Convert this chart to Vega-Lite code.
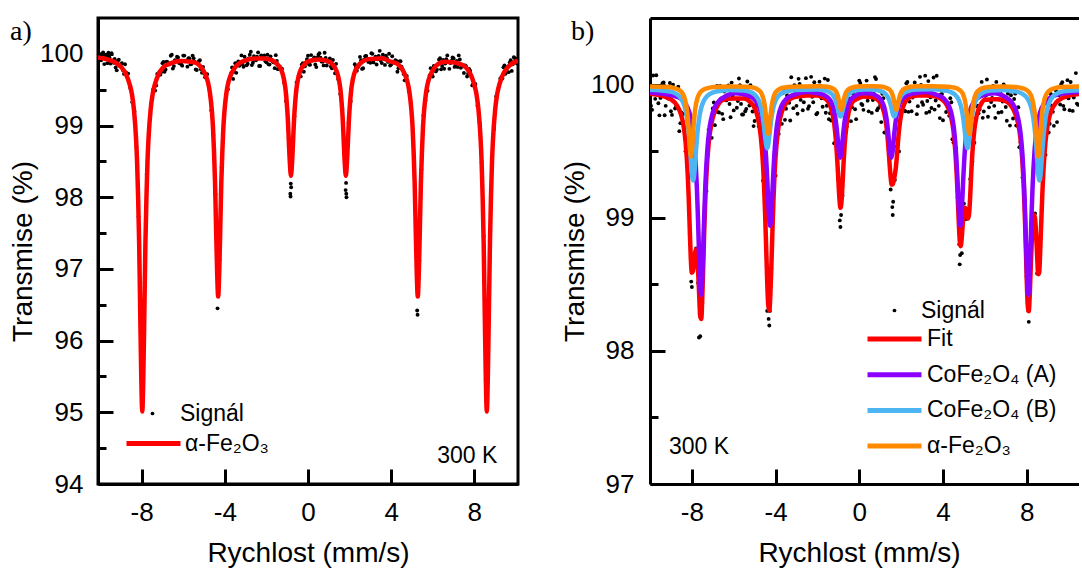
{
"$schema": "https://vega.github.io/schema/vega-lite/v6.json",
"background": "white",
"padding": {"left": 8, "top": 16, "right": 0, "bottom": 0},
"spacing": 41,
"config": {
 "font": "Liberation Sans",
 "view": {"stroke": "black", "strokeWidth": 3},
 "axis": {"domainColor": "black", "domainWidth": 3, "tickColor": "black", "tickWidth": 3, "labelFont": "Liberation Sans", "labelFontSize": 26, "labelColor": "black", "titleFont": "Liberation Sans", "titleFontSize": 28, "titleFontWeight": "normal", "titleColor": "black", "grid": false, "labelFlush": false, "labelOverlap": false},
 "legend": {"labelFont": "Liberation Sans", "labelFontSize": 23, "labelColor": "black", "padding": 0, "offset": 0},
 "text": {"font": "Liberation Sans", "fontSize": 23, "color": "black"}
},
"resolve": {"scale": {"x": "independent", "y": "independent", "color": "independent", "shape": "independent"}, "legend": {"color": "independent", "shape": "independent"}},
"datasets": {
 "sigA": [
{"v":-10.05,"t":100.0},{"v":-9.95,"t":99.91},{"v":-9.85,"t":100.02},{"v":-9.75,"t":99.945},{"v":-9.65,"t":99.87},{"v":-9.55,"t":99.95},{"v":-9.45,"t":100.01},{"v":-9.35,"t":99.875},{"v":-9.25,"t":99.81},{"v":-9.15,"t":99.9},
{"v":-9.05,"t":99.835},{"v":-8.95,"t":99.87},{"v":-8.85,"t":99.72},{"v":-8.75,"t":99.74},{"v":-8.65,"t":99.725},{"v":-8.55,"t":99.525},{"v":-8.45,"t":99.325},{"v":-8.35,"t":99.195},{"v":-8.25,"t":98.7},{"v":-8.15,"t":97.73},
{"v":-8.05,"t":96.12},{"v":-7.95,"t":95.15},{"v":-7.85,"t":96.81},{"v":-7.75,"t":98.32},{"v":-7.65,"t":98.86},{"v":-7.55,"t":99.25},{"v":-7.45,"t":99.5},{"v":-7.35,"t":99.487},{"v":-7.25,"t":99.72},{"v":-7.15,"t":99.749},
{"v":-7.05,"t":99.748},{"v":-6.95,"t":99.887},{"v":-6.85,"t":99.781},{"v":-6.75,"t":99.883},{"v":-6.65,"t":99.859},{"v":-6.55,"t":99.989},{"v":-6.45,"t":99.829},{"v":-6.35,"t":99.906},{"v":-6.25,"t":99.951},{"v":-6.15,"t":99.874},
{"v":-6.05,"t":99.835},{"v":-5.95,"t":99.976},{"v":-5.85,"t":99.903},{"v":-5.75,"t":99.939},{"v":-5.65,"t":99.853},{"v":-5.55,"t":99.976},{"v":-5.45,"t":99.892},{"v":-5.35,"t":99.774},{"v":-5.25,"t":99.896},{"v":-5.15,"t":99.784},
{"v":-5.05,"t":99.816},{"v":-4.95,"t":99.674},{"v":-4.85,"t":99.717},{"v":-4.75,"t":99.513},{"v":-4.65,"t":99.212},{"v":-4.55,"t":98.868},{"v":-4.45,"t":98.043},{"v":-4.35,"t":96.45},{"v":-4.25,"t":97.125},{"v":-4.15,"t":98.415},
{"v":-4.05,"t":99.05},{"v":-3.95,"t":99.43},{"v":-3.85,"t":99.505},{"v":-3.75,"t":99.68},{"v":-3.65,"t":99.81},{"v":-3.55,"t":99.75},{"v":-3.45,"t":99.735},{"v":-3.35,"t":99.895},{"v":-3.25,"t":99.87},{"v":-3.15,"t":99.855},
{"v":-3.05,"t":99.96},{"v":-2.95,"t":99.84},{"v":-2.85,"t":99.935},{"v":-2.75,"t":100.03},{"v":-2.65,"t":99.875},{"v":-2.55,"t":99.918},{"v":-2.45,"t":99.959},{"v":-2.35,"t":99.83},{"v":-2.25,"t":99.979},{"v":-2.15,"t":99.938},
{"v":-2.05,"t":99.895},{"v":-1.95,"t":99.988},{"v":-1.85,"t":99.85},{"v":-1.75,"t":99.917},{"v":-1.65,"t":99.881},{"v":-1.55,"t":99.982},{"v":-1.45,"t":99.786},{"v":-1.35,"t":99.819},{"v":-1.25,"t":99.792},{"v":-1.15,"t":99.598},
{"v":-1.05,"t":99.34},{"v":-0.95,"t":99.035},{"v":-0.85,"t":98.05},{"v":-0.84,"t":98.01},{"v":-0.83,"t":98.19},{"v":-0.81,"t":98.14},{"v":-0.75,"t":98.63},{"v":-0.65,"t":99.13},{"v":-0.55,"t":99.6},{"v":-0.45,"t":99.695},{"v":-0.35,"t":99.685},{"v":-0.25,"t":99.87},{"v":-0.15,"t":99.825},
{"v":-0.05,"t":99.924},{"v":0.05,"t":99.851},{"v":0.15,"t":99.983},{"v":0.25,"t":99.919},{"v":0.35,"t":99.853},{"v":0.45,"t":99.947},{"v":0.55,"t":100.01},{"v":0.65,"t":99.893},{"v":0.75,"t":99.839},{"v":0.85,"t":99.943},
{"v":0.95,"t":99.891},{"v":1.05,"t":99.935},{"v":1.15,"t":99.798},{"v":1.25,"t":99.84},{"v":1.35,"t":99.861},{"v":1.45,"t":99.648},{"v":1.55,"t":99.44},{"v":1.65,"t":99.23},{"v":1.75,"t":98.61},{"v":1.81,"t":98.1},{"v":1.83,"t":98.2},{"v":1.84,"t":98.05},{"v":1.85,"t":98.0},
{"v":1.95,"t":99.04},{"v":2.05,"t":99.34},{"v":2.15,"t":99.65},{"v":2.25,"t":99.855},{"v":2.35,"t":99.765},{"v":2.45,"t":99.843},{"v":2.55,"t":99.91},{"v":2.65,"t":99.799},{"v":2.75,"t":99.966},{"v":2.85,"t":99.934},
{"v":2.95,"t":99.902},{"v":3.05,"t":100.009},{"v":3.15,"t":99.881},{"v":3.25,"t":99.962},{"v":3.35,"t":99.923},{"v":3.45,"t":100.042},{"v":3.55,"t":99.871},{"v":3.65,"t":99.938},{"v":3.75,"t":99.974},{"v":3.85,"t":99.888},
{"v":3.95,"t":99.836},{"v":4.05,"t":99.966},{"v":4.15,"t":99.88},{"v":4.25,"t":99.9},{"v":4.35,"t":99.8},{"v":4.45,"t":99.896},{"v":4.55,"t":99.785},{"v":4.65,"t":99.63},{"v":4.75,"t":99.691},{"v":4.85,"t":99.475},
{"v":4.95,"t":99.312},{"v":5.05,"t":98.786},{"v":5.15,"t":98.01},{"v":5.25,"t":96.42},{"v":5.27,"t":96.36},{"v":5.35,"t":97.12},{"v":5.45,"t":98.39},{"v":5.55,"t":99.14},{"v":5.65,"t":99.35},{"v":5.75,"t":99.485},{"v":5.85,"t":99.7},
{"v":5.95,"t":99.715},{"v":6.05,"t":99.83},{"v":6.15,"t":99.755},{"v":6.25,"t":99.852},{"v":6.35,"t":99.938},{"v":6.45,"t":99.83},{"v":6.55,"t":99.792},{"v":6.65,"t":99.925},{"v":6.75,"t":99.89},{"v":6.85,"t":99.873},
{"v":6.95,"t":99.95},{"v":7.05,"t":99.818},{"v":7.15,"t":99.902},{"v":7.25,"t":99.978},{"v":7.35,"t":99.805},{"v":7.45,"t":99.825},{"v":7.55,"t":99.84},{"v":7.65,"t":99.684},{"v":7.75,"t":99.79},{"v":7.85,"t":99.7},
{"v":7.95,"t":99.58},{"v":8.05,"t":99.58},{"v":8.15,"t":99.277},{"v":8.25,"t":99.044},{"v":8.35,"t":98.48},{"v":8.45,"t":97.46},{"v":8.55,"t":95.44},{"v":8.65,"t":95.51},{"v":8.75,"t":97.4},{"v":8.85,"t":98.46},
{"v":8.95,"t":98.95},{"v":9.05,"t":99.405},{"v":9.15,"t":99.51},{"v":9.25,"t":99.655},{"v":9.35,"t":99.655},{"v":9.45,"t":99.84},{"v":9.55,"t":99.815},{"v":9.65,"t":99.745},{"v":9.75,"t":99.91},{"v":9.85,"t":99.855},
{"v":9.95,"t":99.94},{"v":10.05,"t":99.867},
{"v":-10.0,"t":99.92},{"v":-9.9,"t":100.004},{"v":-9.8,"t":99.857},{"v":-9.7,"t":99.952},{"v":-9.6,"t":100.015},{"v":-9.5,"t":99.865},{"v":-9.4,"t":99.903},{"v":-9.3,"t":99.928},{"v":-9.2,"t":99.77},{"v":-9.1,"t":99.918},{"v":-9.0,"t":99.852},{"v":-8.9,"t":99.77},{"v":-8.8,"t":99.855},
{"v":-7.3,"t":99.56},{"v":-7.2,"t":99.705},{"v":-7.1,"t":99.71},{"v":-7.0,"t":99.87},{"v":-6.9,"t":99.75},{"v":-6.8,"t":99.892},{"v":-6.7,"t":99.851},{"v":-6.6,"t":99.974},{"v":-6.5,"t":99.794},{"v":-6.4,"t":99.913},{"v":-6.3,"t":99.959},{"v":-6.2,"t":99.873},{"v":-6.1,"t":99.855},{"v":-6.0,"t":99.976},{"v":-5.9,"t":99.905},{"v":-5.8,"t":99.821},{"v":-5.7,"t":99.936},{"v":-5.6,"t":99.86},{"v":-5.5,"t":99.939},{"v":-5.4,"t":99.783},{"v":-5.3,"t":99.865},{"v":-5.2,"t":99.91},{"v":-5.1,"t":99.735},{"v":-5.0,"t":99.74},
{"v":-3.7,"t":99.73},{"v":-3.6,"t":99.65},{"v":-3.5,"t":99.87},{"v":-3.4,"t":99.86},{"v":-3.3,"t":99.833},{"v":-3.2,"t":99.978},{"v":-3.1,"t":99.82},{"v":-3.0,"t":99.905},{"v":-2.9,"t":99.863},{"v":-2.8,"t":99.988},{"v":-2.7,"t":99.843},{"v":-2.6,"t":99.967},{"v":-2.5,"t":99.909},{"v":-2.4,"t":100.02},{"v":-2.3,"t":99.83},{"v":-2.2,"t":99.939},{"v":-2.1,"t":99.977},{"v":-2.0,"t":99.882},{"v":-1.9,"t":99.854},{"v":-1.8,"t":99.965},{"v":-1.7,"t":99.89},{"v":-1.6,"t":99.8},{"v":-1.5,"t":99.9},{"v":-1.4,"t":99.8},
{"v":-0.3,"t":99.85},{"v":-0.2,"t":99.75},{"v":-0.1,"t":99.88},{"v":0.0,"t":99.973},{"v":0.1,"t":99.847},{"v":0.2,"t":99.906},{"v":0.3,"t":99.951},{"v":0.4,"t":99.815},{"v":0.5,"t":99.987},{"v":0.6,"t":99.945},{"v":0.7,"t":99.891},{"v":0.8,"t":100.016},{"v":0.9,"t":99.837},{"v":1.0,"t":99.893},{"v":1.1,"t":99.822},{"v":1.2,"t":99.914},{"v":1.3,"t":99.73},
{"v":2.3,"t":99.82},{"v":2.4,"t":99.813},{"v":2.5,"t":99.957},{"v":2.6,"t":99.79},{"v":2.7,"t":99.918},{"v":2.8,"t":99.97},{"v":2.9,"t":99.888},{"v":3.0,"t":99.875},{"v":3.1,"t":100.0},{"v":3.2,"t":99.932},{"v":3.3,"t":99.852},{"v":3.4,"t":99.972},{"v":3.5,"t":99.902},{"v":3.6,"t":99.99},{"v":3.7,"t":99.846},{"v":3.8,"t":99.941},{"v":3.9,"t":100.002},{"v":4.0,"t":99.85},{"v":4.1,"t":99.888},{"v":4.2,"t":99.91},{"v":4.3,"t":99.75},{"v":4.4,"t":99.893},{"v":4.5,"t":99.82},{"v":4.6,"t":99.72},
{"v":5.9,"t":99.8},{"v":6.0,"t":99.683},{"v":6.1,"t":99.798},{"v":6.2,"t":99.778},{"v":6.3,"t":99.92},{"v":6.4,"t":99.784},{"v":6.5,"t":99.916},{"v":6.6,"t":99.864},{"v":6.7,"t":99.978},{"v":6.8,"t":99.791},{"v":6.9,"t":99.902},{"v":7.0,"t":99.939},{"v":7.1,"t":99.845},{"v":7.2,"t":99.815},{"v":7.3,"t":99.921},{"v":7.4,"t":99.835},{"v":7.5,"t":99.732},{"v":7.6,"t":99.827},{"v":7.7,"t":99.722},{"v":7.8,"t":99.765},{"v":7.9,"t":99.56},
{"v":9.3,"t":99.675},{"v":9.4,"t":99.812},{"v":9.5,"t":99.722},{"v":9.6,"t":99.81},{"v":9.7,"t":99.878},{"v":9.8,"t":99.762},{"v":9.9,"t":99.952},{"v":10.0,"t":99.93}
 ],
 "fitA": [
{"v":-10.1,"t":99.95},{"v":-9.9,"t":99.94},{"v":-9.67,"t":99.925},{"v":-9.27,"t":99.88},{"v":-8.97,"t":99.811},{"v":-8.77,"t":99.726},{"v":-8.57,"t":99.567},{"v":-8.47,"t":99.442},{"v":-8.37,"t":99.218},{"v":-8.27,"t":98.82},{"v":-8.22,"t":98.496},{"v":-8.17,"t":97.998},{"v":-8.12,"t":97.351},{"v":-8.07,"t":96.404},{"v":-8.02,"t":95.508},{"v":-7.97,"t":95.01},{"v":-7.92,"t":95.508},{"v":-7.87,"t":96.404},{"v":-7.82,"t":97.351},{"v":-7.77,"t":97.998},{"v":-7.72,"t":98.496},{"v":-7.67,"t":98.82},{"v":-7.57,"t":99.218},{"v":-7.47,"t":99.442},{"v":-7.37,"t":99.567},{"v":-7.17,"t":99.726},{"v":-6.97,"t":99.811},{"v":-6.67,"t":99.86},{"v":-6.15,"t":99.9},
{"v":-5.62,"t":99.89},{"v":-5.32,"t":99.864},{"v":-5.12,"t":99.806},{"v":-4.92,"t":99.699},{"v":-4.82,"t":99.614},{"v":-4.72,"t":99.463},{"v":-4.62,"t":99.193},{"v":-4.57,"t":98.974},{"v":-4.52,"t":98.637},{"v":-4.47,"t":98.199},{"v":-4.42,"t":97.559},{"v":-4.37,"t":96.952},{"v":-4.32,"t":96.615},{"v":-4.27,"t":96.952},{"v":-4.22,"t":97.559},{"v":-4.17,"t":98.199},{"v":-4.12,"t":98.637},{"v":-4.07,"t":98.974},{"v":-4.02,"t":99.193},{"v":-3.92,"t":99.463},{"v":-3.82,"t":99.614},{"v":-3.72,"t":99.699},{"v":-3.52,"t":99.806},{"v":-3.32,"t":99.864},{"v":-3.02,"t":99.91},
{"v":-2.57,"t":99.935},{"v":-2.12,"t":99.935},{"v":-1.82,"t":99.92},{"v":-1.62,"t":99.891},{"v":-1.42,"t":99.837},{"v":-1.32,"t":99.795},{"v":-1.22,"t":99.72},{"v":-1.12,"t":99.585},{"v":-1.07,"t":99.476},{"v":-1.02,"t":99.308},{"v":-0.97,"t":99.09},{"v":-0.92,"t":98.77},{"v":-0.87,"t":98.468},{"v":-0.82,"t":98.3},{"v":-0.77,"t":98.468},{"v":-0.72,"t":98.77},{"v":-0.67,"t":99.09},{"v":-0.62,"t":99.308},{"v":-0.57,"t":99.476},{"v":-0.52,"t":99.585},{"v":-0.42,"t":99.72},{"v":-0.32,"t":99.795},{"v":-0.22,"t":99.837},{"v":-0.02,"t":99.891},
{"v":0.5,"t":99.922},{"v":1.02,"t":99.891},{"v":1.22,"t":99.837},{"v":1.32,"t":99.795},{"v":1.42,"t":99.72},{"v":1.52,"t":99.585},{"v":1.57,"t":99.476},{"v":1.62,"t":99.308},{"v":1.67,"t":99.09},{"v":1.72,"t":98.77},{"v":1.77,"t":98.468},{"v":1.82,"t":98.3},{"v":1.87,"t":98.468},{"v":1.92,"t":98.77},{"v":1.97,"t":99.09},{"v":2.02,"t":99.308},{"v":2.07,"t":99.476},{"v":2.12,"t":99.585},{"v":2.22,"t":99.72},{"v":2.32,"t":99.795},{"v":2.42,"t":99.837},{"v":2.62,"t":99.891},{"v":2.82,"t":99.92},{"v":3.12,"t":99.93},{"v":3.55,"t":99.94},
{"v":3.98,"t":99.89},{"v":4.28,"t":99.864},{"v":4.48,"t":99.806},{"v":4.68,"t":99.699},{"v":4.78,"t":99.614},{"v":4.88,"t":99.463},{"v":4.98,"t":99.193},{"v":5.03,"t":98.974},{"v":5.08,"t":98.637},{"v":5.13,"t":98.199},{"v":5.18,"t":97.559},{"v":5.23,"t":96.952},{"v":5.28,"t":96.615},{"v":5.33,"t":96.952},{"v":5.38,"t":97.559},{"v":5.43,"t":98.199},{"v":5.48,"t":98.637},{"v":5.53,"t":98.974},{"v":5.58,"t":99.193},{"v":5.68,"t":99.463},{"v":5.78,"t":99.614},{"v":5.88,"t":99.699},{"v":6.08,"t":99.806},{"v":6.28,"t":99.864},{"v":6.58,"t":99.89},
{"v":6.94,"t":99.883},{"v":7.3,"t":99.86},{"v":7.6,"t":99.811},{"v":7.8,"t":99.726},{"v":8.0,"t":99.567},{"v":8.1,"t":99.442},{"v":8.2,"t":99.218},{"v":8.3,"t":98.82},{"v":8.35,"t":98.496},{"v":8.4,"t":97.998},{"v":8.45,"t":97.351},{"v":8.5,"t":96.404},{"v":8.55,"t":95.508},{"v":8.6,"t":95.01},{"v":8.65,"t":95.508},{"v":8.7,"t":96.404},{"v":8.75,"t":97.351},{"v":8.8,"t":97.998},{"v":8.85,"t":98.496},{"v":8.9,"t":98.82},{"v":9.0,"t":99.218},{"v":9.1,"t":99.442},{"v":9.2,"t":99.567},{"v":9.4,"t":99.726},{"v":9.6,"t":99.811},{"v":9.9,"t":99.88},{"v":10.1,"t":99.905}
 ],
 "sigB": [
{"v":-10.0,"t":100.01},{"v":-9.9,"t":99.81},{"v":-9.8,"t":99.955},{"v":-9.7,"t":100.07},{"v":-9.6,"t":99.86},{"v":-9.5,"t":99.9},{"v":-9.4,"t":100.01},{"v":-9.3,"t":99.77},{"v":-9.2,"t":99.95},{"v":-9.1,"t":99.895},
{"v":-9.0,"t":99.8},{"v":-8.9,"t":100.0},{"v":-8.8,"t":99.82},{"v":-8.7,"t":99.91},{"v":-8.6,"t":99.65},{"v":-8.5,"t":99.79},{"v":-8.4,"t":99.78},{"v":-8.3,"t":99.5},{"v":-8.2,"t":99.46},{"v":-8.1,"t":98.88},
{"v":-8.03,"t":98.52},{"v":-8.0,"t":98.48},{"v":-7.9,"t":98.72},{"v":-7.8,"t":98.77},{"v":-7.7,"t":98.51},{"v":-7.66,"t":98.1},{"v":-7.62,"t":98.28},{"v":-7.6,"t":98.11},{"v":-7.5,"t":98.36},{"v":-7.4,"t":98.99},{"v":-7.3,"t":99.2},{"v":-7.2,"t":99.66},{"v":-7.1,"t":99.67},
{"v":-7.0,"t":99.82},{"v":-6.9,"t":99.695},{"v":-6.8,"t":99.99},{"v":-6.7,"t":99.79},{"v":-6.6,"t":99.895},{"v":-6.5,"t":99.74},{"v":-6.4,"t":99.98},{"v":-6.3,"t":99.892},{"v":-6.2,"t":99.854},{"v":-6.1,"t":100.015},
{"v":-6.0,"t":99.806},{"v":-5.9,"t":99.946},{"v":-5.8,"t":99.876},{"v":-5.7,"t":99.996},{"v":-5.6,"t":99.775},{"v":-5.5,"t":99.955},{"v":-5.4,"t":99.817},{"v":-5.3,"t":99.898},{"v":-5.2,"t":99.996},{"v":-5.1,"t":99.798},
{"v":-5.0,"t":99.726},{"v":-4.9,"t":99.863},{"v":-4.8,"t":99.687},{"v":-4.7,"t":99.682},{"v":-4.6,"t":99.279},{"v":-4.5,"t":99.063},{"v":-4.4,"t":98.3},{"v":-4.37,"t":98.36},{"v":-4.33,"t":98.24},{"v":-4.3,"t":98.19},{"v":-4.27,"t":98.3},{"v":-4.2,"t":98.618},{"v":-4.1,"t":99.234},
{"v":-4.0,"t":99.316},{"v":-3.9,"t":99.684},{"v":-3.8,"t":99.736},{"v":-3.7,"t":99.705},{"v":-3.6,"t":99.953},{"v":-3.5,"t":99.818},{"v":-3.4,"t":99.948},{"v":-3.3,"t":99.73},{"v":-3.2,"t":99.92},{"v":-3.1,"t":99.996},
{"v":-3.0,"t":99.84},{"v":-2.9,"t":100.043},{"v":-2.8,"t":99.885},{"v":-2.7,"t":99.807},{"v":-2.6,"t":99.978},{"v":-2.5,"t":99.928},{"v":-2.4,"t":99.838},{"v":-2.3,"t":100.058},{"v":-2.2,"t":99.867},{"v":-2.1,"t":99.957},
{"v":-2.0,"t":99.787},{"v":-1.9,"t":100.022},{"v":-1.8,"t":99.897},{"v":-1.7,"t":99.97},{"v":-1.6,"t":99.788},{"v":-1.5,"t":100.034},{"v":-1.4,"t":99.785},{"v":-1.3,"t":99.825},{"v":-1.2,"t":99.559},{"v":-1.1,"t":99.639},
{"v":-1.0,"t":99.284},{"v":-0.93,"t":98.98},{"v":-0.9,"t":98.93},{"v":-0.87,"t":99.02},{"v":-0.8,"t":99.165},{"v":-0.7,"t":99.592},{"v":-0.6,"t":99.686},{"v":-0.5,"t":99.895},{"v":-0.4,"t":99.725},{"v":-0.3,"t":99.933},{"v":-0.2,"t":99.815},{"v":-0.1,"t":99.913},
{"v":0.0,"t":100.03},{"v":0.1,"t":99.855},{"v":0.2,"t":99.81},{"v":0.3,"t":99.99},{"v":0.4,"t":99.879},{"v":0.5,"t":99.988},{"v":0.6,"t":99.787},{"v":0.7,"t":99.93},{"v":0.8,"t":100.042},{"v":0.9,"t":99.822},
{"v":1.0,"t":99.843},{"v":1.1,"t":99.931},{"v":1.2,"t":99.64},{"v":1.3,"t":99.736},{"v":1.4,"t":99.513},{"v":1.5,"t":99.212},{"v":1.58,"t":99.08},{"v":1.6,"t":99.02},{"v":1.62,"t":99.12},{"v":1.7,"t":99.283},{"v":1.8,"t":99.535},{"v":1.9,"t":99.498},
{"v":2.0,"t":99.795},{"v":2.1,"t":99.925},{"v":2.2,"t":99.8},{"v":2.3,"t":100.02},{"v":2.4,"t":99.872},{"v":2.5,"t":99.8},{"v":2.6,"t":99.973},{"v":2.7,"t":99.926},{"v":2.8,"t":99.838},{"v":2.9,"t":100.058},
{"v":3.0,"t":99.868},{"v":3.1,"t":99.958},{"v":3.2,"t":99.787},{"v":3.3,"t":100.026},{"v":3.4,"t":99.904},{"v":3.5,"t":99.983},{"v":3.6,"t":99.812},{"v":3.7,"t":100.066},{"v":3.8,"t":99.84},{"v":3.9,"t":99.925},
{"v":4.0,"t":99.732},{"v":4.1,"t":99.956},{"v":4.2,"t":99.841},{"v":4.3,"t":99.765},{"v":4.4,"t":99.867},{"v":4.5,"t":99.564},{"v":4.6,"t":99.525},{"v":4.7,"t":99.154},{"v":4.78,"t":98.8},{"v":4.8,"t":98.65},{"v":4.82,"t":98.72},{"v":4.9,"t":98.734},
{"v":5.0,"t":99.106},{"v":5.1,"t":98.989},{"v":5.2,"t":99.014},{"v":5.3,"t":99.29},{"v":5.4,"t":99.425},{"v":5.5,"t":99.563},{"v":5.6,"t":99.839},{"v":5.7,"t":99.785},{"v":5.8,"t":99.929},{"v":5.9,"t":99.75},
{"v":6.0,"t":99.916},{"v":6.1,"t":100.038},{"v":6.2,"t":99.829},{"v":6.3,"t":99.869},{"v":6.4,"t":99.99},{"v":6.5,"t":99.75},{"v":6.6,"t":99.94},{"v":6.7,"t":99.887},{"v":6.8,"t":99.794},{"v":6.9,"t":100.001},
{"v":7.0,"t":99.832},{"v":7.1,"t":99.932},{"v":7.2,"t":99.692},{"v":7.3,"t":99.85},{"v":7.4,"t":99.892},{"v":7.5,"t":99.692},{"v":7.6,"t":99.83},{"v":7.7,"t":99.568},{"v":7.8,"t":99.302},{"v":7.9,"t":99.13},
{"v":8.0,"t":98.561},{"v":8.08,"t":98.3},{"v":8.1,"t":98.218},{"v":8.2,"t":98.793},{"v":8.3,"t":98.921},{"v":8.4,"t":99.033},{"v":8.5,"t":98.581},{"v":8.6,"t":98.7},{"v":8.7,"t":98.969},{"v":8.8,"t":99.421},{"v":8.9,"t":99.472},
{"v":9.0,"t":99.853},{"v":9.1,"t":99.706},{"v":9.2,"t":99.842},{"v":9.3,"t":99.69},{"v":9.4,"t":99.954},{"v":9.5,"t":99.878},{"v":9.6,"t":99.85},{"v":9.7,"t":100.018},{"v":9.8,"t":99.815},{"v":9.9,"t":99.961},
{"v":10.0,"t":99.896},{"v":10.1,"t":100.019},{"v":10.2,"t":99.802},{"v":10.3,"t":99.985},{"v":10.4,"t":99.857},{"v":10.5,"t":99.949},
{"v":-9.95,"t":99.84},{"v":-9.85,"t":100.068},{"v":-9.75,"t":99.893},{"v":-9.65,"t":99.99},{"v":-9.55,"t":99.769},{"v":-9.45,"t":99.955},{"v":-9.35,"t":100.016},{"v":-9.25,"t":99.84},{"v":-9.15,"t":99.896},{"v":-9.05,"t":100.012},{"v":-8.95,"t":99.772},{"v":-8.85,"t":99.92},{"v":-8.75,"t":99.833},{"v":-8.65,"t":99.985},{"v":-8.55,"t":99.71},
{"v":-7.15,"t":99.69},{"v":-7.05,"t":99.6},{"v":-6.95,"t":99.865},{"v":-6.85,"t":99.825},{"v":-6.75,"t":99.793},{"v":-6.65,"t":99.99},{"v":-6.55,"t":99.78},{"v":-6.45,"t":99.948},{"v":-6.35,"t":99.881},{"v":-6.25,"t":99.993},{"v":-6.15,"t":99.755},{"v":-6.05,"t":99.916},{"v":-5.95,"t":99.976},{"v":-5.85,"t":99.826},{"v":-5.75,"t":100.046},{"v":-5.65,"t":99.855},{"v":-5.55,"t":99.775},{"v":-5.45,"t":99.8},{"v":-5.35,"t":100.023},{"v":-5.25,"t":99.842},{"v":-5.15,"t":99.928},{"v":-5.05,"t":99.688},{"v":-4.95,"t":99.845},{"v":-4.85,"t":99.86},
{"v":-3.85,"t":99.63},{"v":-3.75,"t":99.765},{"v":-3.65,"t":99.935},{"v":-3.55,"t":99.735},{"v":-3.45,"t":99.918},{"v":-3.35,"t":99.863},{"v":-3.25,"t":100.055},{"v":-3.15,"t":99.823},{"v":-3.05,"t":99.938},{"v":-2.95,"t":99.781},{"v":-2.85,"t":100.004},{"v":-2.75,"t":99.926},{"v":-2.65,"t":99.867},{"v":-2.55,"t":100.048},{"v":-2.45,"t":99.818},{"v":-2.35,"t":99.978},{"v":-2.25,"t":99.908},{"v":-2.15,"t":100.017},{"v":-2.05,"t":99.777},{"v":-1.95,"t":99.935},{"v":-1.85,"t":99.99},{"v":-1.75,"t":99.833},{"v":-1.65,"t":100.045},{"v":-1.55,"t":99.841},{"v":-1.45,"t":99.74},{"v":-1.35,"t":99.73},
{"v":-0.45,"t":99.962},{"v":-0.35,"t":99.83},{"v":-0.25,"t":99.948},{"v":-0.15,"t":99.74},{"v":-0.05,"t":99.937},{"v":0.05,"t":100.012},{"v":0.15,"t":99.847},{"v":0.25,"t":99.91},{"v":0.35,"t":100.03},{"v":0.45,"t":99.799},{"v":0.55,"t":99.958},{"v":0.65,"t":99.884},{"v":0.75,"t":100.056},{"v":0.85,"t":99.807},{"v":0.95,"t":99.903},{"v":1.05,"t":99.718},{"v":1.15,"t":99.897},{"v":1.25,"t":99.745},
{"v":2.15,"t":99.803},{"v":2.25,"t":100.01},{"v":2.35,"t":99.795},{"v":2.45,"t":99.965},{"v":2.55,"t":99.902},{"v":2.65,"t":100.016},{"v":2.75,"t":99.778},{"v":2.85,"t":99.938},{"v":2.95,"t":99.998},{"v":3.05,"t":99.848},{"v":3.15,"t":100.067},{"v":3.25,"t":99.877},{"v":3.35,"t":99.796},{"v":3.45,"t":99.824},{"v":3.55,"t":100.053},{"v":3.65,"t":99.88},{"v":3.75,"t":99.973},{"v":3.85,"t":99.748},{"v":3.95,"t":99.93},{"v":4.05,"t":99.984},{"v":4.15,"t":99.794},{"v":4.25,"t":99.824},{"v":4.35,"t":99.898},{"v":4.45,"t":99.59},
{"v":5.65,"t":99.84},{"v":5.75,"t":99.813},{"v":5.85,"t":100.02},{"v":5.95,"t":99.798},{"v":6.05,"t":99.917},{"v":6.15,"t":99.758},{"v":6.25,"t":99.979},{"v":6.35,"t":99.899},{"v":6.45,"t":99.84},{"v":6.55,"t":100.02},{"v":6.65,"t":99.789},{"v":6.75,"t":99.946},{"v":6.85,"t":99.873},{"v":6.95,"t":99.977},{"v":7.05,"t":99.728},{"v":7.15,"t":99.877},{"v":7.25,"t":99.92},{"v":7.35,"t":99.745},{"v":7.45,"t":99.932},{"v":7.55,"t":99.692},{"v":7.65,"t":99.53},
{"v":9.05,"t":99.64},{"v":9.15,"t":99.93},{"v":9.25,"t":99.795},{"v":9.35,"t":99.922},{"v":9.45,"t":99.718},{"v":9.55,"t":99.92},{"v":9.65,"t":100.003},{"v":9.75,"t":99.84},{"v":9.85,"t":99.907},{"v":9.95,"t":100.033},{"v":10.05,"t":99.807},{"v":10.15,"t":99.97},{"v":10.25,"t":99.903},{"v":10.35,"t":100.086},{"v":10.45,"t":99.848}
 ],
 "fitB": [
{"v":-10.0,"t":99.932},{"v":-9.5,"t":99.919},{"v":-9.0,"t":99.888},{"v":-8.8,"t":99.863},{"v":-8.6,"t":99.81},{"v":-8.5,"t":99.766},{"v":-8.4,"t":99.694},{"v":-8.3,"t":99.57},{"v":-8.2,"t":99.334},{"v":-8.15,"t":99.148},{"v":-8.1,"t":98.913},{"v":-8.05,"t":98.693},{"v":-8.0,"t":98.587},{"v":-7.95,"t":98.598},{"v":-7.9,"t":98.659},{"v":-7.85,"t":98.731},{"v":-7.8,"t":98.764},{"v":-7.75,"t":98.721},{"v":-7.7,"t":98.595},{"v":-7.65,"t":98.42},{"v":-7.6,"t":98.26},{"v":-7.55,"t":98.24},{"v":-7.5,"t":98.408},{"v":-7.45,"t":98.674},{"v":-7.4,"t":98.948},{"v":-7.35,"t":99.169},{"v":-7.3,"t":99.333},{"v":-7.2,"t":99.552},{"v":-7.1,"t":99.678},{"v":-7.0,"t":99.751},{"v":-6.8,"t":99.832},{"v":-6.5,"t":99.886},{"v":-6.0,"t":99.896},
{"v":-5.5,"t":99.895},{"v":-5.2,"t":99.866},{"v":-5.0,"t":99.826},{"v":-4.9,"t":99.783},{"v":-4.8,"t":99.717},{"v":-4.7,"t":99.602},{"v":-4.6,"t":99.399},{"v":-4.55,"t":99.241},{"v":-4.5,"t":99.033},{"v":-4.45,"t":98.784},{"v":-4.4,"t":98.524},{"v":-4.35,"t":98.344},{"v":-4.3,"t":98.304},{"v":-4.25,"t":98.417},{"v":-4.2,"t":98.638},{"v":-4.15,"t":98.898},{"v":-4.1,"t":99.134},{"v":-4.05,"t":99.32},{"v":-4.0,"t":99.456},{"v":-3.9,"t":99.634},{"v":-3.8,"t":99.736},{"v":-3.7,"t":99.795},{"v":-3.6,"t":99.833},{"v":-3.4,"t":99.878},{"v":-3.1,"t":99.906},{"v":-2.5,"t":99.918},
{"v":-2.0,"t":99.917},{"v":-1.7,"t":99.9},{"v":-1.5,"t":99.874},{"v":-1.4,"t":99.845},{"v":-1.3,"t":99.795},{"v":-1.2,"t":99.709},{"v":-1.1,"t":99.549},{"v":-1.05,"t":99.428},{"v":-1.0,"t":99.284},{"v":-0.95,"t":99.147},{"v":-0.9,"t":99.074},{"v":-0.85,"t":99.118},{"v":-0.8,"t":99.255},{"v":-0.75,"t":99.411},{"v":-0.7,"t":99.542},{"v":-0.6,"t":99.706},{"v":-0.5,"t":99.795},{"v":-0.4,"t":99.845},{"v":-0.3,"t":99.873},{"v":-0.1,"t":99.893},{"v":0.2,"t":99.91},
{"v":0.6,"t":99.907},{"v":0.9,"t":99.882},{"v":1.0,"t":99.863},{"v":1.1,"t":99.831},{"v":1.2,"t":99.78},{"v":1.3,"t":99.686},{"v":1.35,"t":99.609},{"v":1.4,"t":99.513},{"v":1.45,"t":99.401},{"v":1.5,"t":99.302},{"v":1.55,"t":99.249},{"v":1.6,"t":99.25},{"v":1.65,"t":99.28},{"v":1.7,"t":99.323},{"v":1.75,"t":99.379},{"v":1.8,"t":99.465},{"v":1.85,"t":99.568},{"v":1.9,"t":99.658},{"v":2.0,"t":99.775},{"v":2.1,"t":99.835},{"v":2.2,"t":99.87},{"v":2.3,"t":99.89},{"v":2.5,"t":99.91},{"v":2.8,"t":99.918},{"v":3.2,"t":99.917},
{"v":3.6,"t":99.912},{"v":3.9,"t":99.895},{"v":4.1,"t":99.866},{"v":4.2,"t":99.841},{"v":4.3,"t":99.805},{"v":4.4,"t":99.747},{"v":4.5,"t":99.654},{"v":4.6,"t":99.475},{"v":4.65,"t":99.341},{"v":4.7,"t":99.174},{"v":4.75,"t":98.983},{"v":4.8,"t":98.831},{"v":4.85,"t":98.786},{"v":4.9,"t":98.854},{"v":4.95,"t":98.964},{"v":5.0,"t":99.046},{"v":5.05,"t":99.075},{"v":5.1,"t":99.059},{"v":5.15,"t":99.017},{"v":5.2,"t":98.994},{"v":5.25,"t":99.032},{"v":5.3,"t":99.16},{"v":5.35,"t":99.331},{"v":5.4,"t":99.475},{"v":5.5,"t":99.663},{"v":5.6,"t":99.759},{"v":5.7,"t":99.815},{"v":5.8,"t":99.849},{"v":6.0,"t":99.886},
{"v":6.3,"t":99.889},{"v":6.6,"t":99.89},{"v":6.9,"t":99.881},{"v":7.2,"t":99.852},{"v":7.4,"t":99.802},{"v":7.5,"t":99.762},{"v":7.6,"t":99.7},{"v":7.7,"t":99.598},{"v":7.8,"t":99.412},{"v":7.85,"t":99.265},{"v":7.9,"t":99.07},{"v":7.95,"t":98.824},{"v":8.0,"t":98.551},{"v":8.05,"t":98.342},{"v":8.1,"t":98.298},{"v":8.15,"t":98.438},{"v":8.2,"t":98.653},{"v":8.25,"t":98.847},{"v":8.3,"t":98.971},{"v":8.35,"t":99.022},{"v":8.4,"t":98.993},{"v":8.45,"t":98.878},{"v":8.5,"t":98.711},{"v":8.55,"t":98.576},{"v":8.6,"t":98.59},{"v":8.65,"t":98.764},{"v":8.7,"t":98.979},{"v":8.75,"t":99.188},{"v":8.8,"t":99.351},{"v":8.9,"t":99.572},{"v":9.0,"t":99.693},{"v":9.1,"t":99.766},{"v":9.2,"t":99.812},{"v":9.4,"t":99.864},{"v":9.7,"t":99.898},{"v":10.0,"t":99.916},{"v":10.3,"t":99.925},{"v":10.6,"t":99.93}
 ],
 "coA": [
{"v":-10.0,"t":99.94},{"v":-8.66,"t":99.906},{"v":-8.36,"t":99.868},{"v":-8.11,"t":99.786},{"v":-7.96,"t":99.668},{"v":-7.86,"t":99.512},{"v":-7.76,"t":99.225},{"v":-7.71,"t":99.008},{"v":-7.66,"t":98.752},{"v":-7.61,"t":98.519},{"v":-7.56,"t":98.42},{"v":-7.51,"t":98.519},{"v":-7.46,"t":98.752},{"v":-7.41,"t":99.008},{"v":-7.36,"t":99.225},{"v":-7.26,"t":99.512},{"v":-7.16,"t":99.668},{"v":-7.01,"t":99.786},{"v":-6.76,"t":99.868},{"v":-6.46,"t":99.906},{"v":-5.91,"t":99.935},
{"v":-5.36,"t":99.921},{"v":-5.06,"t":99.896},{"v":-4.81,"t":99.842},{"v":-4.66,"t":99.764},{"v":-4.56,"t":99.661},{"v":-4.46,"t":99.471},{"v":-4.41,"t":99.328},{"v":-4.36,"t":99.159},{"v":-4.31,"t":99.006},{"v":-4.26,"t":98.94},{"v":-4.21,"t":99.006},{"v":-4.16,"t":99.159},{"v":-4.11,"t":99.328},{"v":-4.06,"t":99.471},{"v":-3.96,"t":99.661},{"v":-3.86,"t":99.764},{"v":-3.71,"t":99.842},{"v":-3.46,"t":99.896},{"v":-3.16,"t":99.921},{"v":-2.58,"t":99.945},
{"v":-2.01,"t":99.935},{"v":-1.71,"t":99.923},{"v":-1.46,"t":99.896},{"v":-1.31,"t":99.858},{"v":-1.21,"t":99.807},{"v":-1.11,"t":99.713},{"v":-1.06,"t":99.642},{"v":-1.01,"t":99.558},{"v":-0.96,"t":99.482},{"v":-0.91,"t":99.45},{"v":-0.86,"t":99.482},{"v":-0.81,"t":99.558},{"v":-0.76,"t":99.642},{"v":-0.71,"t":99.713},{"v":-0.61,"t":99.807},{"v":-0.51,"t":99.858},{"v":-0.36,"t":99.896},{"v":-0.11,"t":99.923},{"v":0.19,"t":99.935},
{"v":0.43,"t":99.935},{"v":0.73,"t":99.923},{"v":0.98,"t":99.896},{"v":1.13,"t":99.858},{"v":1.23,"t":99.807},{"v":1.33,"t":99.713},{"v":1.38,"t":99.642},{"v":1.43,"t":99.558},{"v":1.48,"t":99.482},{"v":1.53,"t":99.45},{"v":1.58,"t":99.482},{"v":1.63,"t":99.558},{"v":1.68,"t":99.642},{"v":1.73,"t":99.713},{"v":1.83,"t":99.807},{"v":1.93,"t":99.858},{"v":2.08,"t":99.896},{"v":2.33,"t":99.923},{"v":2.63,"t":99.935},{"v":3.18,"t":99.945},
{"v":3.73,"t":99.921},{"v":4.03,"t":99.896},{"v":4.28,"t":99.842},{"v":4.43,"t":99.764},{"v":4.53,"t":99.661},{"v":4.63,"t":99.471},{"v":4.68,"t":99.328},{"v":4.73,"t":99.159},{"v":4.78,"t":99.006},{"v":4.83,"t":98.94},{"v":4.88,"t":99.006},{"v":4.93,"t":99.159},{"v":4.98,"t":99.328},{"v":5.03,"t":99.471},{"v":5.13,"t":99.661},{"v":5.23,"t":99.764},{"v":5.38,"t":99.842},{"v":5.63,"t":99.896},{"v":5.93,"t":99.921},{"v":6.45,"t":99.935},
{"v":6.98,"t":99.906},{"v":7.28,"t":99.868},{"v":7.53,"t":99.786},{"v":7.68,"t":99.668},{"v":7.78,"t":99.512},{"v":7.88,"t":99.225},{"v":7.93,"t":99.008},{"v":7.98,"t":98.752},{"v":8.03,"t":98.519},{"v":8.08,"t":98.42},{"v":8.13,"t":98.519},{"v":8.18,"t":98.752},{"v":8.23,"t":99.008},{"v":8.28,"t":99.225},{"v":8.38,"t":99.512},{"v":8.48,"t":99.668},{"v":8.63,"t":99.786},{"v":8.88,"t":99.868},{"v":9.18,"t":99.906},{"v":9.8,"t":99.935},{"v":10.6,"t":99.945}
 ],
 "coB": [
{"v":-10.0,"t":99.962},{"v":-9.04,"t":99.948},{"v":-8.74,"t":99.929},{"v":-8.49,"t":99.889},{"v":-8.34,"t":99.832},{"v":-8.24,"t":99.757},{"v":-8.14,"t":99.625},{"v":-8.09,"t":99.528},{"v":-8.04,"t":99.418},{"v":-7.99,"t":99.321},{"v":-7.94,"t":99.28},{"v":-7.89,"t":99.321},{"v":-7.84,"t":99.418},{"v":-7.79,"t":99.528},{"v":-7.74,"t":99.625},{"v":-7.64,"t":99.757},{"v":-7.54,"t":99.832},{"v":-7.39,"t":99.889},{"v":-7.14,"t":99.929},{"v":-6.84,"t":99.948},{"v":-6.17,"t":99.96},
{"v":-5.5,"t":99.956},{"v":-5.2,"t":99.944},{"v":-4.95,"t":99.917},{"v":-4.8,"t":99.88},{"v":-4.7,"t":99.831},{"v":-4.6,"t":99.745},{"v":-4.55,"t":99.682},{"v":-4.5,"t":99.61},{"v":-4.45,"t":99.547},{"v":-4.4,"t":99.52},{"v":-4.35,"t":99.547},{"v":-4.3,"t":99.61},{"v":-4.25,"t":99.682},{"v":-4.2,"t":99.745},{"v":-4.1,"t":99.831},{"v":-4.0,"t":99.88},{"v":-3.85,"t":99.917},{"v":-3.6,"t":99.944},{"v":-3.3,"t":99.956},{"v":-2.65,"t":99.962},
{"v":-2.0,"t":99.963},{"v":-1.7,"t":99.958},{"v":-1.45,"t":99.945},{"v":-1.3,"t":99.928},{"v":-1.2,"t":99.905},{"v":-1.1,"t":99.865},{"v":-1.05,"t":99.836},{"v":-1.0,"t":99.802},{"v":-0.95,"t":99.772},{"v":-0.9,"t":99.76},{"v":-0.85,"t":99.772},{"v":-0.8,"t":99.802},{"v":-0.75,"t":99.836},{"v":-0.7,"t":99.865},{"v":-0.6,"t":99.905},{"v":-0.5,"t":99.928},{"v":-0.35,"t":99.945},{"v":-0.1,"t":99.958},{"v":0.2,"t":99.963},
{"v":0.57,"t":99.963},{"v":0.87,"t":99.958},{"v":1.12,"t":99.945},{"v":1.27,"t":99.928},{"v":1.37,"t":99.905},{"v":1.47,"t":99.865},{"v":1.52,"t":99.836},{"v":1.57,"t":99.802},{"v":1.62,"t":99.772},{"v":1.67,"t":99.76},{"v":1.72,"t":99.772},{"v":1.77,"t":99.802},{"v":1.82,"t":99.836},{"v":1.87,"t":99.865},{"v":1.97,"t":99.905},{"v":2.07,"t":99.928},{"v":2.22,"t":99.945},{"v":2.47,"t":99.958},{"v":2.77,"t":99.963},{"v":3.42,"t":99.965},
{"v":4.07,"t":99.956},{"v":4.37,"t":99.944},{"v":4.62,"t":99.917},{"v":4.77,"t":99.88},{"v":4.87,"t":99.831},{"v":4.97,"t":99.745},{"v":5.02,"t":99.682},{"v":5.07,"t":99.61},{"v":5.12,"t":99.547},{"v":5.17,"t":99.52},{"v":5.22,"t":99.547},{"v":5.27,"t":99.61},{"v":5.32,"t":99.682},{"v":5.37,"t":99.745},{"v":5.47,"t":99.831},{"v":5.57,"t":99.88},{"v":5.72,"t":99.917},{"v":5.97,"t":99.944},{"v":6.27,"t":99.956},{"v":6.9,"t":99.96},
{"v":7.51,"t":99.948},{"v":7.81,"t":99.929},{"v":8.06,"t":99.889},{"v":8.21,"t":99.832},{"v":8.31,"t":99.757},{"v":8.41,"t":99.625},{"v":8.46,"t":99.528},{"v":8.51,"t":99.418},{"v":8.56,"t":99.321},{"v":8.61,"t":99.28},{"v":8.66,"t":99.321},{"v":8.71,"t":99.418},{"v":8.76,"t":99.528},{"v":8.81,"t":99.625},{"v":8.91,"t":99.757},{"v":9.01,"t":99.832},{"v":9.16,"t":99.889},{"v":9.41,"t":99.929},{"v":9.71,"t":99.948},{"v":10.6,"t":99.958}
 ],
 "hem": [
{"v":-10.0,"t":99.985},{"v":-9.14,"t":99.982},{"v":-8.84,"t":99.974},{"v":-8.59,"t":99.958},{"v":-8.44,"t":99.932},{"v":-8.34,"t":99.895},{"v":-8.24,"t":99.816},{"v":-8.19,"t":99.743},{"v":-8.14,"t":99.639},{"v":-8.09,"t":99.52},{"v":-8.04,"t":99.46},{"v":-7.99,"t":99.52},{"v":-7.94,"t":99.639},{"v":-7.89,"t":99.743},{"v":-7.84,"t":99.816},{"v":-7.74,"t":99.895},{"v":-7.64,"t":99.932},{"v":-7.49,"t":99.958},{"v":-7.24,"t":99.974},{"v":-6.94,"t":99.982},{"v":-6.2,"t":99.985},
{"v":-5.45,"t":99.984},{"v":-5.15,"t":99.979},{"v":-4.9,"t":99.968},{"v":-4.75,"t":99.951},{"v":-4.65,"t":99.926},{"v":-4.55,"t":99.872},{"v":-4.5,"t":99.822},{"v":-4.45,"t":99.752},{"v":-4.4,"t":99.671},{"v":-4.35,"t":99.63},{"v":-4.3,"t":99.671},{"v":-4.25,"t":99.752},{"v":-4.2,"t":99.822},{"v":-4.15,"t":99.872},{"v":-4.05,"t":99.926},{"v":-3.95,"t":99.951},{"v":-3.8,"t":99.968},{"v":-3.55,"t":99.979},{"v":-3.25,"t":99.984},{"v":-2.6,"t":99.986},
{"v":-1.96,"t":99.987},{"v":-1.66,"t":99.985},{"v":-1.41,"t":99.979},{"v":-1.26,"t":99.97},{"v":-1.16,"t":99.958},{"v":-1.06,"t":99.931},{"v":-1.01,"t":99.906},{"v":-0.96,"t":99.871},{"v":-0.91,"t":99.83},{"v":-0.86,"t":99.81},{"v":-0.81,"t":99.83},{"v":-0.76,"t":99.871},{"v":-0.71,"t":99.906},{"v":-0.66,"t":99.931},{"v":-0.56,"t":99.958},{"v":-0.46,"t":99.97},{"v":-0.31,"t":99.979},{"v":-0.06,"t":99.985},{"v":0.24,"t":99.987},
{"v":0.67,"t":99.987},{"v":0.97,"t":99.985},{"v":1.22,"t":99.979},{"v":1.37,"t":99.97},{"v":1.47,"t":99.958},{"v":1.57,"t":99.931},{"v":1.62,"t":99.906},{"v":1.67,"t":99.871},{"v":1.72,"t":99.83},{"v":1.77,"t":99.81},{"v":1.82,"t":99.83},{"v":1.87,"t":99.871},{"v":1.92,"t":99.906},{"v":1.97,"t":99.931},{"v":2.07,"t":99.958},{"v":2.17,"t":99.97},{"v":2.32,"t":99.979},{"v":2.57,"t":99.985},{"v":2.87,"t":99.987},{"v":3.5,"t":99.988},
{"v":4.16,"t":99.984},{"v":4.46,"t":99.979},{"v":4.71,"t":99.968},{"v":4.86,"t":99.951},{"v":4.96,"t":99.926},{"v":5.06,"t":99.872},{"v":5.11,"t":99.822},{"v":5.16,"t":99.752},{"v":5.21,"t":99.671},{"v":5.26,"t":99.63},{"v":5.31,"t":99.671},{"v":5.36,"t":99.752},{"v":5.41,"t":99.822},{"v":5.46,"t":99.872},{"v":5.56,"t":99.926},{"v":5.66,"t":99.951},{"v":5.81,"t":99.968},{"v":6.06,"t":99.979},{"v":6.36,"t":99.984},{"v":6.9,"t":99.985},
{"v":7.46,"t":99.982},{"v":7.76,"t":99.974},{"v":8.01,"t":99.958},{"v":8.16,"t":99.932},{"v":8.26,"t":99.895},{"v":8.36,"t":99.816},{"v":8.41,"t":99.743},{"v":8.46,"t":99.639},{"v":8.51,"t":99.52},{"v":8.56,"t":99.46},{"v":8.61,"t":99.52},{"v":8.66,"t":99.639},{"v":8.71,"t":99.743},{"v":8.76,"t":99.816},{"v":8.86,"t":99.895},{"v":8.96,"t":99.932},{"v":9.11,"t":99.958},{"v":9.36,"t":99.974},{"v":9.66,"t":99.982},{"v":10.6,"t":99.985}
 ]
},
"hconcat": [
 {
  "width": 420, "height": 466,
  "resolve": {"axis": {"x": "independent", "y": "independent"}},
  "layer": [
   {"data": {"name": "sigA"}, "mark": {"type": "point", "filled": true, "size": 15, "opacity": 1, "clip": true},
    "encoding": {
     "x": {"field": "v", "type": "quantitative", "scale": {"domain": [-10.1, 10.1], "nice": false, "zero": false}, "axis": {"orient": "bottom", "values": [-8, -4, 0, 4, 8], "labelExpr": "replace(datum.label, '−', '-')", "tickSize": -15, "labelPadding": 30, "title": "Rychlost (mm/s)", "titlePadding": 14}},
     "y": {"field": "t", "type": "quantitative", "scale": {"domain": [94, 100.5], "nice": false, "zero": false}, "axis": {"orient": "left", "values": [94, 95, 96, 97, 98, 99, 100], "tickSize": -15, "labelPadding": 30, "title": "Transmise (%)", "titlePadding": 2}},
     "color": {"value": "black"},
     "shape": {"datum": "Signál", "scale": {"domain": ["Signál"], "range": ["circle"]}, "legend": {"orient": "none", "legendX": 43, "legendY": 384, "title": null, "symbolType": "circle", "symbolSize": 14, "symbolFillColor": "black", "symbolStrokeColor": "black", "labelOffset": 16, "padding": 0}}
    }},
   {"data": {"name": "fitA"}, "mark": {"type": "line", "interpolate": "monotone", "strokeWidth": 4.5, "clip": true},
    "encoding": {
     "x": {"field": "v", "type": "quantitative", "axis": null},
     "y": {"field": "t", "type": "quantitative", "axis": null},
     "color": {"datum": "α-Fe₂O₃", "scale": {"domain": ["α-Fe₂O₃"], "range": ["#FF0000"]}, "legend": {"orient": "none", "legendX": 26, "legendY": 396, "title": null, "symbolType": "stroke", "symbolSize": 2916, "symbolStrokeWidth": 5, "labelOffset": 2, "padding": 0}}
    }},
   {"data": {"values": [{"label": "300 K"}]}, "mark": {"type": "text", "fontSize": 23, "align": "center", "baseline": "middle"},
    "encoding": {
     "x": {"datum": 7.66, "type": "quantitative", "axis": null},
     "y": {"datum": 94.39, "type": "quantitative", "axis": {"orient": "left", "values": [94.5, 95.5, 96.5, 97.5, 98.5, 99.5], "tickSize": -8, "labels": false, "domain": false, "title": null}},
     "text": {"field": "label"}
    }},
   {"data": {"values": [{"label": "a)"}]}, "mark": {"type": "text", "font": "Liberation Serif", "fontSize": 28, "align": "left", "baseline": "alphabetic"},
    "encoding": {
     "x": {"datum": -14.33, "type": "quantitative", "axis": null},
     "y": {"datum": 100.193, "type": "quantitative", "axis": null},
     "text": {"field": "label"}
    }}
  ]
 },
 {
  "width": 429, "height": 466,
  "view": {"stroke": null},
  "resolve": {"axis": {"x": "independent", "y": "independent"}},
  "layer": [
   {"data": {"name": "sigB"}, "mark": {"type": "point", "filled": true, "size": 15, "opacity": 1, "clip": true},
    "encoding": {
     "x": {"field": "v", "type": "quantitative", "scale": {"domain": [-10, 10.5], "nice": false, "zero": false}, "axis": {"orient": "bottom", "values": [-8, -4, 0, 4, 8], "labelExpr": "replace(datum.label, '−', '-')", "tickSize": -15, "labelPadding": 30, "title": "Rychlost (mm/s)", "titlePadding": 14, "titleX": 209, "titleAlign": "center"}},
     "y": {"field": "t", "type": "quantitative", "scale": {"domain": [97, 100.5], "nice": false, "zero": false}, "axis": {"orient": "left", "values": [97, 98, 99, 100], "tickSize": -15, "labelPadding": 31, "title": "Transmise (%)", "titlePadding": 1}},
     "color": {"value": "black"},
     "shape": {"datum": "Signál", "scale": {"domain": ["Signál"], "range": ["circle"]}, "legend": {"orient": "none", "legendX": 233, "legendY": 281, "title": null, "symbolType": "circle", "symbolSize": 14, "symbolFillColor": "black", "symbolStrokeColor": "black", "labelOffset": 15, "padding": 0}}
    }},
   {"data": {"name": "fitB"}, "mark": {"type": "line", "interpolate": "monotone", "strokeWidth": 4.5, "clip": true},
    "encoding": {
     "x": {"field": "v", "type": "quantitative", "axis": null},
     "y": {"field": "t", "type": "quantitative", "axis": null},
     "color": {"datum": "Fit", "scale": {"domain": ["Fit", "CoFe₂O₄ (A)", "CoFe₂O₄ (B)", "α-Fe₂O₃"], "range": ["#FF0000", "#8B00FF", "#4DB6F2", "#FF8A00"]}, "legend": {"orient": "none", "legendX": 215, "legendY": 307, "title": null, "symbolType": "stroke", "symbolSize": 2916, "symbolStrokeWidth": 5, "labelOffset": 3, "clipHeight": 28, "rowPadding": 7.7, "padding": 0}}
    }},
   {"data": {"name": "coA"}, "mark": {"type": "line", "interpolate": "monotone", "strokeWidth": 4.5, "clip": true},
    "encoding": {
     "x": {"field": "v", "type": "quantitative", "axis": null},
     "y": {"field": "t", "type": "quantitative", "axis": null},
     "color": {"datum": "CoFe₂O₄ (A)"}
    }},
   {"data": {"name": "coB"}, "mark": {"type": "line", "interpolate": "monotone", "strokeWidth": 4.5, "clip": true},
    "encoding": {
     "x": {"field": "v", "type": "quantitative", "axis": null},
     "y": {"field": "t", "type": "quantitative", "axis": null},
     "color": {"datum": "CoFe₂O₄ (B)"}
    }},
   {"data": {"name": "hem"}, "mark": {"type": "line", "interpolate": "monotone", "strokeWidth": 4.5, "clip": true},
    "encoding": {
     "x": {"field": "v", "type": "quantitative", "axis": null},
     "y": {"field": "t", "type": "quantitative", "axis": null},
     "color": {"datum": "α-Fe₂O₃"}
    }},
   {"data": {"values": [{"label": "300 K"}]}, "mark": {"type": "text", "fontSize": 23, "align": "center", "baseline": "middle"},
    "encoding": {
     "x": {"datum": -7.66, "type": "quantitative", "axis": {"orient": "top", "labels": false, "ticks": false, "domain": true, "title": null}},
     "y": {"datum": 97.28, "type": "quantitative", "axis": {"orient": "left", "values": [97.5, 98.5, 99.5], "tickSize": -8, "labels": false, "domain": false, "title": null}},
     "text": {"field": "label"}
    }},
   {"data": {"values": [{"label": "b)"}]}, "mark": {"type": "text", "font": "Liberation Serif", "fontSize": 28, "align": "left", "baseline": "alphabetic"},
    "encoding": {
     "x": {"datum": -13.77, "type": "quantitative", "axis": null},
     "y": {"datum": 100.335, "type": "quantitative", "axis": null},
     "text": {"field": "label"}
    }}
  ]
 }
]
}
